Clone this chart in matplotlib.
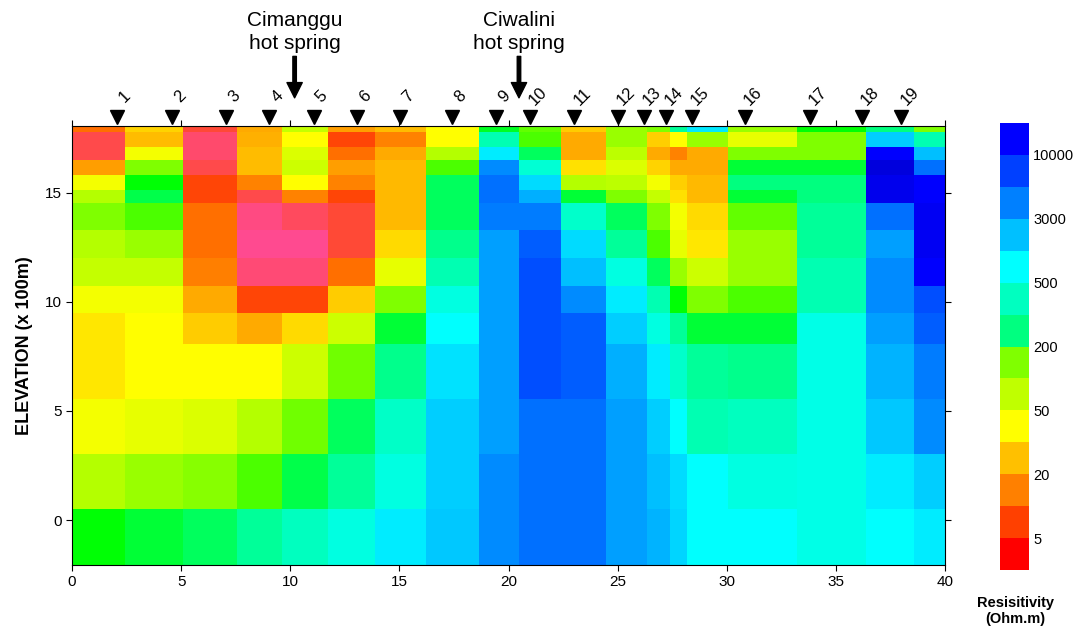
import numpy as np
import matplotlib
matplotlib.use("Agg")
import matplotlib.pyplot as plt
from matplotlib.colors import LinearSegmentedColormap, ListedColormap, BoundaryNorm, LogNorm
from matplotlib.cm import ScalarMappable

plt.rcParams['font.family'] = ['Liberation Sans', 'DejaVu Sans']

# block edges of the resistivity section (distance, elevation)
x_edges = [0, 2.45, 5.1, 7.55, 9.6, 11.75, 13.9, 16.2, 18.65, 20.5, 22.4,
           24.45, 26.35, 27.4, 28.2, 30.05, 33.2, 36.4, 38.6, 40]
y_edges = [-2.06, 0.49, 3.02, 5.57, 8.09, 9.47, 10.73, 12.03, 13.28, 14.53,
           15.12, 15.80, 16.49, 17.10, 17.79, 18.06]

# resistivity (Ohm.m), rows from top layer to bottom layer
rho_rows = [
    [10, 35, 3.8, 20, 73, 18, 26, 50, 230, 130, 32, 88, 100, 430, 1300, 88, 200, 370, 100],
    [3.2, 26, 2, 22, 50, 5, 13, 50, 500, 150, 20, 88, 33, 50, 88, 60, 100, 1850, 500],
    [3.2, 55, 2, 26, 65, 10, 20, 80, 1270, 300, 20, 75, 20, 13, 20, 100, 100, 20000, 2200],
    [18, 100, 3.2, 26, 70, 18, 25, 150, 3700, 700, 40, 65, 35, 20, 20, 250, 250, 40000, 5000],
    [55, 200, 5, 13, 50, 13, 25, 300, 5000, 1550, 80, 75, 55, 33, 25, 370, 370, 28000, 20000],
    [80, 270, 5, 3.2, 13, 5, 25, 300, 5000, 2600, 250, 100, 73, 40, 25, 250, 370, 28000, 20000],
    [100, 150, 10, 1.3, 2.4, 3.8, 25, 300, 4300, 4300, 660, 300, 100, 55, 38, 130, 430, 5000, 25000],
    [80, 88, 10, 1, 1, 3.8, 38, 400, 3000, 7500, 1550, 430, 150, 60, 43, 88, 430, 3000, 25000],
    [73, 73, 12, 1.7, 1.7, 10, 60, 500, 3000, 10000, 2200, 800, 300, 88, 70, 88, 500, 3700, 20000],
    [55, 55, 20, 5, 5, 32, 100, 800, 3000, 10000, 3700, 1270, 500, 200, 100, 150, 500, 3700, 10000],
    [43, 50, 32, 20, 38, 70, 250, 1000, 3000, 10000, 7500, 1850, 800, 430, 250, 250, 850, 3000, 7500],
    [43, 50, 50, 50, 70, 115, 400, 1400, 3000, 10000, 7500, 2600, 1270, 660, 430, 400, 850, 2400, 4300],
    [55, 60, 65, 80, 115, 300, 620, 1850, 3000, 5000, 5000, 3000, 1850, 1000, 500, 580, 850, 2000, 3700],
    [78, 88, 97, 150, 270, 430, 800, 1850, 3700, 5000, 5000, 3000, 2200, 1550, 1000, 800, 850, 1270, 1850],
    [200, 250, 300, 430, 580, 800, 1270, 2000, 3700, 5000, 5000, 3000, 2400, 1700, 1000, 1000, 850, 1000, 1270],
]

# survey stations
station_x = [2.04, 4.57, 7.05, 9.04, 11.07, 13.04, 15.02, 17.42, 19.42, 20.98,
             23.0, 25.0, 26.2, 27.2, 28.4, 30.83, 33.8, 36.2, 38.0]
station_labels = [str(i) for i in range(1, 20)]

springs = ["Cimanggu\nhot spring", "Ciwalini\nhot spring"]
spring_x = [10.2, 20.48]

# colour scale
cbar_bounds = [1, 5, 10, 20, 30, 50, 100, 200, 300, 500, 1000, 3000, 5000, 10000, 20000]
cbar_colors = ['#ff0000', '#ff4000', '#ff8000', '#ffc000', '#ffff00', '#c0ff00', '#80ff00',
               '#00ff80', '#00ffc0', '#00ffff', '#00c0ff', '#0080ff', '#0040ff', '#0000ff']
cbar_ticks = [5, 20, 50, 200, 500, 3000, 10000]

# continuous palette used for the section blocks
node_rho = [1, 2, 3.5, 5, 10, 15, 20, 30, 40, 50, 65, 80, 100, 150, 200, 300, 500,
            800, 1000, 2000, 3000, 5000, 10000, 20000, 40000]
node_col = ['#ff4a90', '#ff4a6a', '#ff4a45', '#ff4500', '#ff7000', '#ff9000', '#ffaa00',
            '#ffc800', '#ffe000', '#ffff00', '#d8ff00', '#b0ff00', '#80ff00', '#50ff00',
            '#00ff00', '#00ff60', '#00ffb0', '#00ffe0', '#00ffff', '#00c8ff', '#00a0ff',
            '#0070ff', '#0050ff', '#0000ff', '#0000dd']
vmin, vmax = node_rho[0], node_rho[-1]
pos = [np.log(r / vmin) / np.log(vmax / vmin) for r in node_rho]
sec_cmap = LinearSegmentedColormap.from_list('sec', list(zip(pos, node_col)))

fig = plt.figure(figsize=(10.8, 6.31), dpi=100)
ax = fig.add_axes([72 / 1080, 66 / 631, 873 / 1080, 439 / 631])

rho = np.array(rho_rows)[::-1]
ax.pcolormesh(x_edges, y_edges, rho, cmap=sec_cmap, norm=LogNorm(vmin, vmax))

ax.set_xlim(0, 40)
ax.set_ylim(-2.06, 18.06)
ax.set_xticks(np.arange(0, 41, 5))
ax.set_yticks([0, 5, 10, 15])
ax.tick_params(direction='out', length=4, labelsize=11, top=True, right=True)
ax.set_ylabel('ELEVATION (x 100m)', fontsize=13, fontweight='bold', labelpad=8)

# station markers and numbers
ax.plot(station_x, [18.45] * len(station_x), 'v', color='black', ms=10, clip_on=False)
for sx, lab in zip(station_x, station_labels):
    ax.annotate(lab, (sx, 18.45), xytext=(6, 15), textcoords='offset points',
                rotation=45, ha='center', va='center', fontsize=12, annotation_clip=False)

# hot spring arrows
for sx, name in zip(spring_x, springs):
    ax.annotate('', xy=(sx, 19.35), xytext=(sx, 21.25), annotation_clip=False,
                arrowprops=dict(facecolor='black', edgecolor='black', width=2.5,
                                headwidth=11, headlength=11))
    ax.text(sx, 21.4, name, ha='center', va='bottom', fontsize=15, linespacing=1.25,
            clip_on=False)

# colour bar
cax = fig.add_axes([1000 / 1080, 61 / 631, 29 / 1080, 447 / 631])
cb = fig.colorbar(ScalarMappable(BoundaryNorm(cbar_bounds, len(cbar_colors)),
                                 ListedColormap(cbar_colors)),
                  cax=cax, spacing='uniform', ticks=cbar_ticks)
cb.outline.set_visible(False)
cb.ax.set_yticklabels([str(t) for t in cbar_ticks])
cax.minorticks_off()
cax.tick_params(which='both', length=0, labelsize=10.5, pad=3)
fig.text(1015 / 1080, 1 - 611 / 631, 'Resisitivity\n(Ohm.m)', ha='center', va='center',
         fontsize=10.5, fontweight='bold', linespacing=1.2)

fig.savefig('out.png', dpi=100)
